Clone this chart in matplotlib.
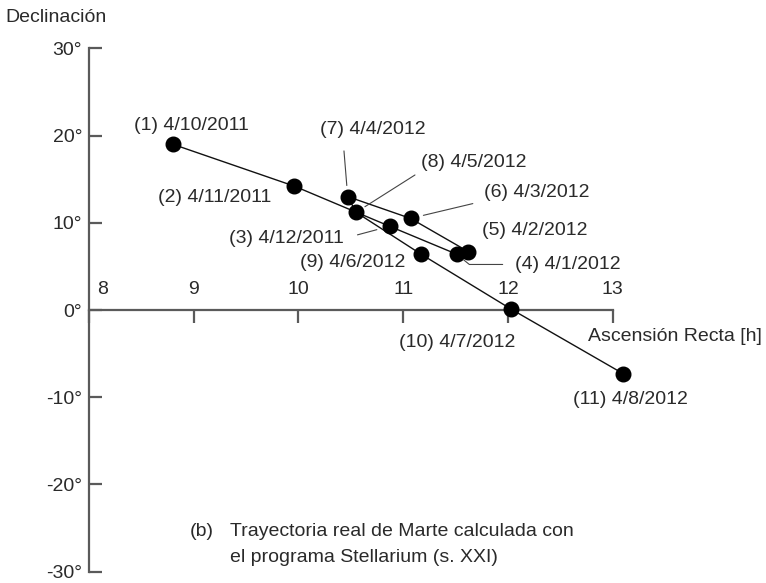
import matplotlib
matplotlib.use("Agg")
import matplotlib.pyplot as plt
import matplotlib.transforms as mtransforms

plt.rcParams['font.family'] = ['Liberation Sans', 'DejaVu Sans']

#Mars positions (ascension in hours, declination in degrees)
ra = [8.80, 9.96, 10.87, 11.51, 11.62, 11.07, 10.47, 10.55, 11.17, 12.03, 13.10]
dec = [19.0, 14.2, 9.6, 6.4, 6.7, 10.5, 13.0, 11.2, 6.4, 0.1, -7.3]
point_labels = ["(1) 4/10/2011", "(2) 4/11/2011", "(3) 4/12/2011", "(4) 4/1/2012",
                "(5) 4/2/2012", "(6) 4/3/2012", "(7) 4/4/2012", "(8) 4/5/2012",
                "(9) 4/6/2012", "(10) 4/7/2012", "(11) 4/8/2012"]

x_ticks = [8, 9, 10, 11, 12, 13]
y_ticks = [-30, -20, -10, 0, 10, 20, 30]
y_ticklabels = [f"{v}°" for v in y_ticks]

#label placement: text centre (data coords) and leader style (None = no leader)
label_pos = [(8.974, 21.2), (9.203, 12.95), (9.886, 8.2), (12.573, 5.22),
             (12.258, 9.11), (12.272, 13.47), (10.707, 20.64), (11.676, 16.91),
             (10.52, 5.4), (11.518, -3.75), (13.165, -10.24)]
leaders = {
    2: dict(relpos=(1, 0.5), shrinkA=8, shrinkB=9.5, connectionstyle="arc3"),
    3: dict(relpos=(0, 0.5), shrinkA=7, shrinkB=6.5, connectionstyle="angle,angleA=0,angleB=-39,rad=0"),
    5: dict(relpos=(0, 0), shrinkA=6, shrinkB=9.5, connectionstyle="arc3"),
    6: dict(relpos=(0.22, 0), shrinkA=7, shrinkB=8, connectionstyle="arc3"),
    7: dict(relpos=(0, 0), shrinkA=3, shrinkB=7.5, connectionstyle="arc3"),
}

text_color = "#2a2a2a"
axis_color = "#5a5a5a"
fs = 14

fig = plt.figure(figsize=(7.66, 5.83), dpi=100)
px_per_h = 104.74
x_max = 14.4
ax = fig.add_axes([89 / 766, 1 - 571.7 / 583, (x_max - 8) * px_per_h / 766, 523.4 / 583])
ax.set_xlim(8, x_max)
ax.set_ylim(-30, 30)

#trajectory
ax.plot(ra, dec, color="#111111", lw=1.0, zorder=2)
ax.plot(ra, dec, "o", color="black", markersize=10.5, zorder=3, clip_on=False)

for i, lab in enumerate(point_labels):
    if i in leaders:
        opt = leaders[i]
        ax.annotate(lab, xy=(ra[i], dec[i]), xytext=label_pos[i], ha="center", va="center",
                    fontsize=fs, color=text_color,
                    arrowprops=dict(arrowstyle="-", color="#444444", lw=0.8,
                                    relpos=opt["relpos"], shrinkA=opt["shrinkA"],
                                    shrinkB=opt["shrinkB"],
                                    connectionstyle=opt["connectionstyle"]))
    else:
        ax.text(label_pos[i][0], label_pos[i][1], lab, ha="center", va="center",
                fontsize=fs, color=text_color)

#axes in the middle: y axis at 8h, x axis at 0 deg
ax.spines["right"].set_visible(False)
ax.spines["left"].set_position(("data", 8))
ax.spines["left"].set_bounds(-30, 30)
ax.spines["bottom"].set_position(("data", 0))
ax.spines["bottom"].set_bounds(8, 13)
ax.spines["top"].set_position(("data", 0))
ax.spines["top"].set_bounds(8, 13)
ax.spines["top"].set_color("none")
for s in ["left", "bottom"]:
    ax.spines[s].set_color(axis_color)
    ax.spines[s].set_linewidth(1.6)

ax.set_xticks(x_ticks)
ax.set_xticklabels([str(v) for v in x_ticks])
ax.tick_params(axis="x", bottom=False, labelbottom=False, top=True, labeltop=True,
               direction="in", length=9.5, width=1.6, color=axis_color,
               labelsize=fs, labelcolor=text_color, pad=9)
ax.set_yticks(y_ticks)
ax.set_yticklabels(y_ticklabels)
ax.tick_params(axis="y", left=True, right=False, direction="in", length=9.5, width=1.6,
               color=axis_color, labelsize=fs, labelcolor=text_color, pad=5)

#"8" sits right of the y axis
shift = mtransforms.ScaledTranslation(10 / 72, 0, fig.dpi_scale_trans)
first = ax.xaxis.get_major_ticks()[0].label2
first.set_transform(first.get_transform() + shift)

ax.text(13.595, -3.0, "Ascensión Recta [h]", ha="center", va="center",
        fontsize=fs, color=text_color)
fig.text(5 / 766, 1 - 17.5 / 583, "Declinación", ha="left", va="center",
         fontsize=fs, color=text_color)

fig.text(190 / 766, 1 - 531 / 583, "(b)", ha="left", va="center", fontsize=fs, color=text_color)
fig.text(230 / 766, 1 - 531 / 583, "Trayectoria real de Marte calculada con",
         ha="left", va="center", fontsize=fs, color=text_color)
fig.text(230 / 766, 1 - 557 / 583, "el programa Stellarium (s. XXI)",
         ha="left", va="center", fontsize=fs, color=text_color)

fig.savefig("out.png", dpi=100)
